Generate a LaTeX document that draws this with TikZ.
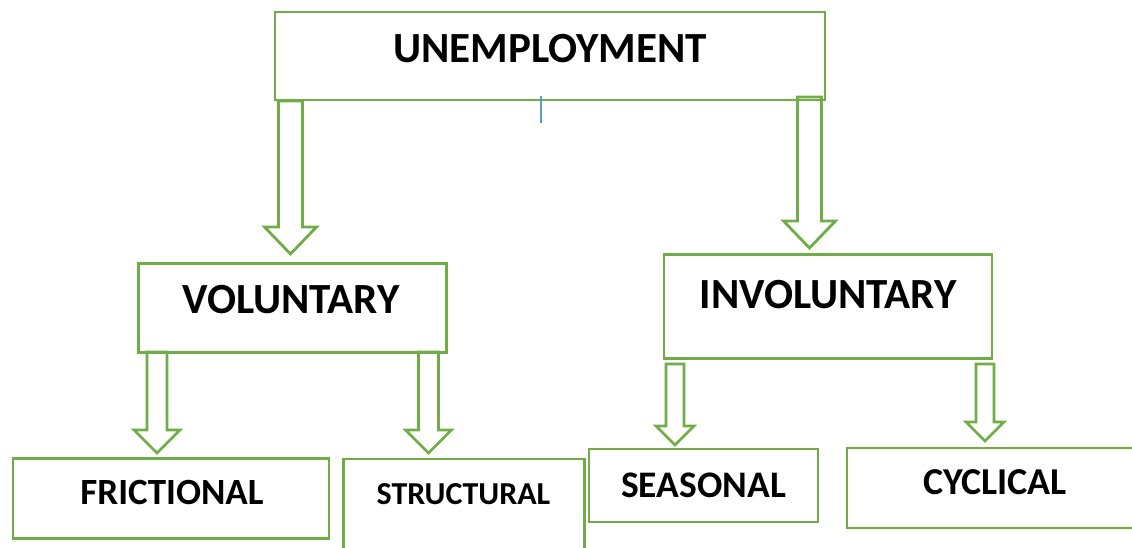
\documentclass[tikz,border=0pt]{standalone}
\usepackage{fontspec}
\setmainfont{Carlito}
\usetikzlibrary{calc}
\definecolor{leaf}{HTML}{70AD47}
\definecolor{caret}{HTML}{5B9BD5}
\tikzset{
  box/.style={draw=leaf,line width=2.8pt,inner sep=0pt},
  lbl/.style={anchor=base,inner sep=0pt,font=\fontsize{#1pt}{#1pt}\selectfont\bfseries},
  barrow/.style={draw=leaf,line width=2.8pt,line join=miter},
}
% hollow block arrow: from, to, shaft half width, head half width, head length
\newcommand\blockarrow[5]{%
  \draw[barrow] let \p1=(#1), \p2=(#2) in
    (\x1-#3pt,\y1) -- (\x1-#3pt,\y2+#5pt) -- (\x1-#4pt,\y2+#5pt) -- (\x2,\y2)
    -- (\x1+#4pt,\y2+#5pt) -- (\x1+#3pt,\y2+#5pt) -- (\x1+#3pt,\y1) -- cycle;}

\begin{document}
\begin{tikzpicture}[x=1pt,y=-1pt]
  \useasboundingbox (0,0) rectangle (1132,548);
  \clip (0,0) rectangle (1132,548);
  % boxes
  \node[box,minimum width=550pt,minimum height=88pt](unemp) at (550,56){};
  \node[box,minimum width=308pt,minimum height=88.5pt](vol) at (292.5,308){};
  \node[box,minimum width=328pt,minimum height=103.5pt](invol) at (828,306.5){};
  \node[box,minimum width=316pt,minimum height=80pt](fric) at (171,498.5){};
  \node[box,minimum width=241pt,minimum height=142pt](struc) at (464,530){};
  \node[box,minimum width=229pt,minimum height=73pt](seas) at (703.5,485.5){};
  \node[box,minimum width=303pt,minimum height=80pt](cyc) at (998.5,488){};
  % labels
  \node[lbl=43](unemp-txt) at (550,63){UNEMPLOYMENT};
  \node[lbl=43](vol-txt) at (291,313){VOLUNTARY};
  \node[lbl=43](invol-txt) at (828,308){INVOLUNTARY};
  \node[lbl=37](fric-txt) at (172,504){FRICTIONAL};
  \node[lbl=32](struc-txt) at (463.5,504){STRUCTURAL};
  \node[lbl=37.5](seas-txt) at (703.5,497){SEASONAL};
  \node[lbl=38](cyc-txt) at (995,494){CYCLICAL};
  % arrow ends
  \coordinate (a1) at (290.5,101);  \coordinate (b1) at (290.5,254);
  \coordinate (a2) at (809.5,97);   \coordinate (b2) at (809.5,248);
  \coordinate (a3) at (157,352);    \coordinate (b3) at (157,453);
  \coordinate (a4) at (428.5,352);  \coordinate (b4) at (428.5,453);
  \coordinate (a5) at (675,364);    \coordinate (b5) at (675,445);
  \coordinate (a6) at (985,364);    \coordinate (b6) at (985,441);
  \foreach \a/\b/\s/\h/\l in {a1/b1/12/26/27,a2/b2/12/26/27,a3/b3/10/23/23,
      a4/b4/10/23/23,a5/b5/9/19/19,a6/b6/9/19/19}
    \blockarrow{\a}{\b}{\s}{\h}{\l};
  \draw[caret,line width=1.2pt] (541,96) -- (541,123);
\end{tikzpicture}
\end{document}
